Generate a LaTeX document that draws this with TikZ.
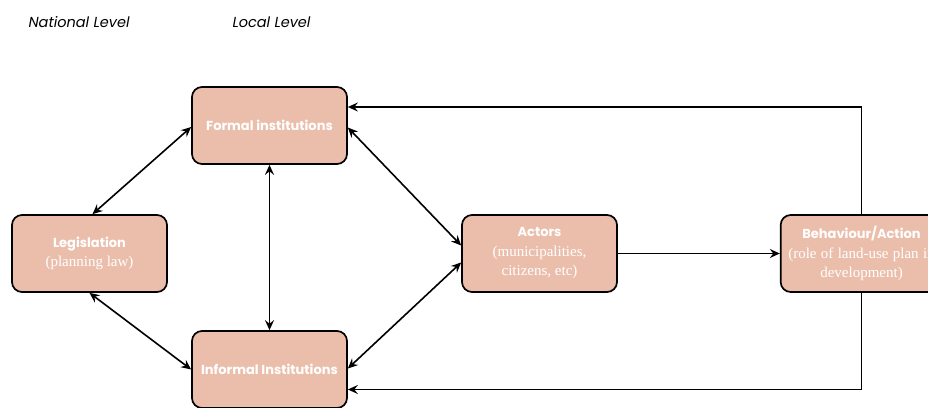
\documentclass[tikz,border=0pt]{standalone}
\usepackage{fontspec}
\setmainfont{Poppins}
\newfontfamily\subfont{Liberation Serif}
\usetikzlibrary{arrows.meta}
\definecolor{boxfill}{RGB}{235,190,172}
\tikzset{
  x=1pt, y=-1pt,
  tip/.style={Stealth[length=10pt,width=9pt,inset=3.5pt]},
  block/.style={draw=black, line width=1.7pt, fill=boxfill, rounded corners=10pt,
    minimum width=155pt, minimum height=77pt, align=center, text=white,
    font=\fontsize{13}{19.5}\selectfont\bfseries},
  link/.style={line width=1.6pt, {Stealth[length=10pt,width=9pt,inset=3.5pt]}-{Stealth[length=10pt,width=9pt,inset=3.5pt]}},
  flow/.style={line width=1.6pt, -{Stealth[length=10pt,width=9pt,inset=3.5pt]}},
  level/.style={font=\fontsize{14.5}{16}\selectfont\itshape, anchor=west}
}
\newcommand{\subline}[1]{{\subfont\mdseries\fontsize{15}{19}\selectfont #1}}
\begin{document}
\begin{tikzpicture}
  \clip (0,0) rectangle (928,407);
  \useasboundingbox (0,0) rectangle (928,407);

  % level headings
  \node[level] (national) at (25,22) {National Level};
  \node[level] (local) at (229,22) {Local Level};

  % boxes
  \node[block] (leg) at (89.5,253.5) {Legislation\\\subline{(planning law)}};
  \node[block] (formal) at (269.5,125.5) {Formal institutions};
  \node[block] (informal) at (269.5,369.5) {Informal Institutions};
  \node[block] (actors) at (539.5,253.5) {Actors\\\subline{(municipalities,}\\\subline{citizens, etc)}};
  \node[block, text width=155pt] (behav) at (861.5,253.5)
    {Behaviour/Action\\\subline{(role of land-use plan in}\\\subline{development)}};

  % two-way links
  \draw[link] ([xshift=3pt]leg.north) -- ([yshift=-1.5pt]formal.west);
  \draw[link] (leg.south) -- (informal.west);
  \draw[link] (formal.south) -- (informal.north);
  \draw[link] ([yshift=-2pt]formal.east) -- ([yshift=8pt]actors.west);
  \draw[link] ([yshift=-9pt]actors.west) -- ([yshift=1pt]informal.east);

  % actors to behaviour, and feedback
  \draw[flow] (actors.east) -- (behav.west);
  \draw[flow] (behav.north) |- ([yshift=18.5pt]formal.east);
  \draw[flow] (behav.south) |- ([yshift=-20pt]informal.east);
\end{tikzpicture}
\end{document}
